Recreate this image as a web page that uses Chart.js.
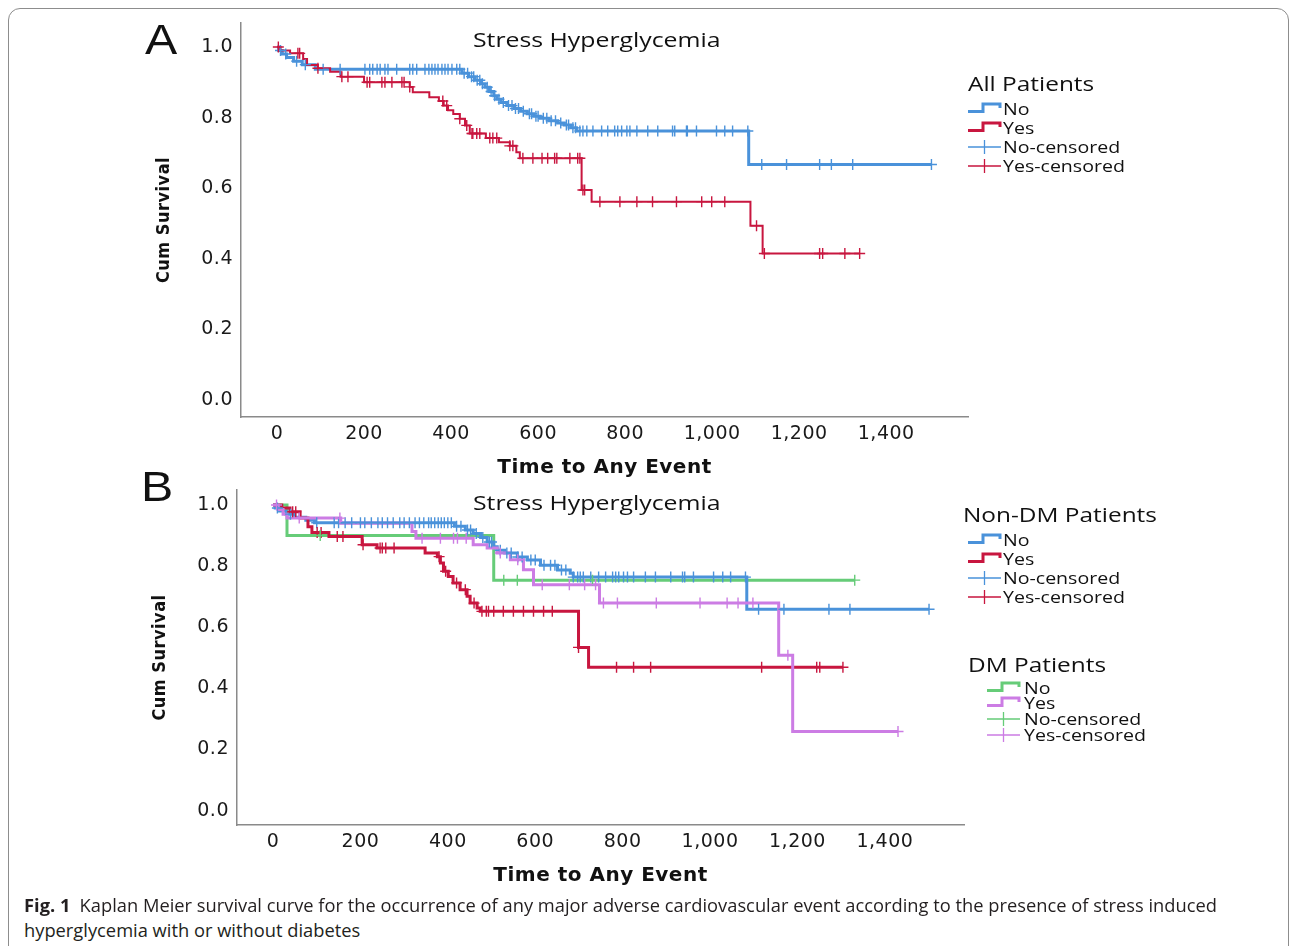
<!DOCTYPE html>
<html>
<head>
<meta charset="utf-8">
<script src="https://cdn.jsdelivr.net/npm/chart.js@4.4.1/dist/chart.umd.min.js"></script>
<style>
html,body{margin:0;padding:0;background:#fff;}
body{width:1296px;height:946px;overflow:hidden;position:relative;font-family:"Open Sans",sans-serif;color:#111;}
.frame{position:absolute;left:8px;top:8px;width:1281px;height:980px;border:1.5px solid #8d8d8d;border-radius:12px;box-sizing:border-box;}
canvas{position:absolute;left:0;}
.t{position:absolute;white-space:nowrap;transform-origin:0 50%;}
.lt{font-size:20px;line-height:20px;height:20px;transform:scaleX(1.22);}
.li{font-size:17px;line-height:18px;height:18px;transform:scaleX(1.15);}
.ttl{font-size:20px;line-height:20px;height:20px;transform:scaleX(1.24);color:#111;}
.pl{font-family:"Liberation Sans",Arial,sans-serif;font-size:42px;line-height:42px;transform:scaleX(1.15);color:#111;}
.cap{font-size:18px;line-height:22px;height:22px;color:#231f20;}
.icon{position:absolute;}
</style>
</head>
<body>
<div class="frame"></div>
<canvas id="chartA" width="1296" height="490" style="top:0px"></canvas>
<canvas id="chartB" width="1296" height="430" style="top:470px"></canvas>
<div id="overlay"></div>
<script>
// ---------------- DATA ----------------
const xTicks = [0, 200, 400, 600, 800, 1000, 1200, 1400];
const xTickLabels = ['0', '200', '400', '600', '800', '1,000', '1,200', '1,400'];
const yTicks = [0, 0.2, 0.4, 0.6, 0.8, 1.0];
const yTickLabels = ['0.0', '0.2', '0.4', '0.6', '0.8', '1.0'];

// Panel A: All patients, stress hyperglycemia No
const allNoTimes = [0, 4, 12, 22, 38, 58, 88, 425, 440, 455, 468, 478, 488, 498, 505, 515, 528, 545, 560, 575, 590, 605, 625, 645, 660, 675, 688, 1084];
const allNoSurv  = [1.0, 0.99, 0.98, 0.97, 0.96, 0.95, 0.937, 0.926, 0.916, 0.906, 0.896, 0.886, 0.874, 0.862, 0.852, 0.843, 0.834, 0.826, 0.818, 0.811, 0.804, 0.798, 0.791, 0.785, 0.779, 0.771, 0.762, 0.667];
const allNoCensored = [8, 20, 45, 65, 106, 145, 202, 213, 220, 230, 237, 248, 255, 275, 305, 312, 321, 340, 349, 356, 363, 370, 379, 386, 393, 402, 413, 420,
  430, 438, 447, 452, 460, 466, 472, 483, 492, 500, 510, 520, 532, 540, 548, 555, 566, 580, 585, 595, 600, 612, 620, 630, 640, 652, 665, 670, 680,
  686, 696, 703, 712, 726, 746, 760, 776, 783, 792, 804, 811, 827, 852, 875, 909, 914, 941, 943, 964, 1010, 1029, 1047, 1082, 1114, 1171, 1247, 1274, 1323, 1504];
// Panel A: All patients, stress hyperglycemia Yes
const allYesTimes = [0, 8, 30, 60, 69, 94, 122, 146, 200, 305, 312, 350, 372, 383, 393, 405, 420, 432, 443, 480, 510, 535, 550, 558, 700, 723, 1088, 1116];
const allYesSurv  = [1.0, 0.99, 0.982, 0.966, 0.949, 0.94, 0.93, 0.916, 0.9, 0.887, 0.872, 0.858, 0.847, 0.834, 0.821, 0.81, 0.797, 0.778, 0.755, 0.742, 0.73, 0.72, 0.702, 0.685, 0.595, 0.562, 0.494, 0.415];
const allYesCensored = [3, 48, 52, 94, 149, 163, 207, 213, 241, 248, 264, 287, 292, 305, 381, 390, 420, 436, 448, 450, 459, 466, 489, 496, 505, 535, 542, 565, 588, 609, 622, 638, 643, 673, 691, 696,
  703, 707, 742, 788, 827, 863, 918, 976, 999, 1029, 1102, 1120, 1247, 1254, 1305, 1339];

// Panel B: Non-DM patients
const nonDmNoTimes = [0, 5, 15, 30, 50, 75, 95, 415, 440, 458, 475, 490, 505, 513, 530, 559, 582, 612, 651, 680, 687, 1084];
const nonDmNoSurv  = [1.0, 0.99, 0.98, 0.97, 0.96, 0.95, 0.942, 0.93, 0.918, 0.907, 0.894, 0.879, 0.863, 0.852, 0.843, 0.83, 0.82, 0.803, 0.787, 0.777, 0.764, 0.659];
const nonDmNoCensored = [10, 40, 100, 140, 150, 165, 180, 200, 210, 225, 240, 250, 262, 275, 290, 300, 312, 325, 335, 345, 356, 362, 370, 378, 385, 392, 400, 408,
  420, 430, 445, 452, 465, 480, 495, 500, 520, 535, 545, 560, 570, 590, 600, 620, 635, 645, 660, 670,
  687, 697, 703, 710, 727, 745, 761, 777, 784, 791, 802, 811, 825, 852, 875, 910, 937, 942, 962, 1008, 1029, 1047, 1081, 1111, 1169, 1272, 1320, 1501];
const nonDmYesTimes = [0, 20, 39, 62, 80, 89, 128, 204, 238, 348, 376, 383, 390, 401, 412, 428, 444, 451, 467, 474, 699, 722];
const nonDmYesSurv  = [1.0, 0.99, 0.978, 0.957, 0.929, 0.91, 0.897, 0.87, 0.859, 0.843, 0.831, 0.81, 0.783, 0.766, 0.745, 0.723, 0.701, 0.679, 0.663, 0.652, 0.534, 0.469];
const nonDmYesCensored = [45, 52, 101, 110, 147, 160, 206, 245, 250, 258, 277, 380, 395, 420, 440, 460, 478, 488, 493, 505, 527, 550, 573, 596, 619, 639, 699, 786, 825, 864, 1118, 1244, 1251, 1304];
// Panel B: DM patients
const dmNoTimes = [0, 32, 505];
const dmNoSurv  = [1.0, 0.9, 0.754];
const dmNoCensored = [108, 528, 559, 731, 1331];
const dmYesTimes = [0, 12, 23, 32, 155, 318, 327, 458, 490, 513, 543, 573, 596, 747, 1157, 1189];
const dmYesSurv  = [1.0, 0.985, 0.97, 0.957, 0.94, 0.913, 0.891, 0.87, 0.859, 0.843, 0.821, 0.788, 0.739, 0.679, 0.508, 0.259];
const dmYesCensored = [8, 60, 153, 341, 383, 413, 422, 442, 520, 560, 616, 678, 713, 738, 756, 788, 877, 977, 1039, 1064, 1098, 1178, 1430];

const panelTitle = 'Stress Hyperglycemia';
const xTitle = 'Time to Any Event';
const yTitle = 'Cum Survival';
const legendA = {title: 'All Patients', labels: ['No', 'Yes', 'No-censored', 'Yes-censored']};
const legendB1 = {title: 'Non-DM Patients', labels: ['No', 'Yes', 'No-censored', 'Yes-censored']};
const legendB2 = {title: 'DM Patients', labels: ['No', 'Yes', 'No-censored', 'Yes-censored']};
const captionBold = 'Fig. 1';
const captionLine1 = 'Kaplan Meier survival curve for the occurrence of any major adverse cardiovascular event according to the presence of stress induced';
const captionLine2 = 'hyperglycemia with or without diabetes';

// ---------------- STYLE ----------------
const BLUE = '#4a92da', RED = '#c8163f', GREEN = '#66cc78', PURPLE = '#cc7ce4';

// ---------------- HELPERS ----------------
function stepPoints(times, surv, cens) {
  const pts = times.map((t, i) => ({x: t, y: surv[i]}));
  const end = Math.max(times[times.length - 1], ...cens);
  pts.push({x: end, y: surv[surv.length - 1]});
  return pts;
}
function survAt(times, surv, t) {
  let s = surv[0];
  for (let i = 0; i < times.length; i++) if (times[i] <= t) s = surv[i];
  return s;
}
function censPoints(times, surv, cens) {
  return cens.map(t => ({x: t, y: survAt(times, surv, t)}));
}
function curve(label, times, surv, cens, color, width) {
  return {type: 'line', label, data: stepPoints(times, surv, cens), stepped: 'before', borderColor: color,
    borderWidth: width, pointRadius: 0, fill: false, tension: 0};
}
function marks(label, times, surv, cens, color) {
  return {type: 'line', label, data: censPoints(times, surv, cens), showLine: false, pointStyle: 'cross',
    pointRadius: 5.5, pointBorderWidth: 1.4, borderColor: color, pointBorderColor: color, backgroundColor: color};
}

const spacingPlugin = {id: 'spacing', beforeDraw(chart) { chart.ctx.letterSpacing = '0.5px'; }};

function makeOptions(cfg) {
  return {
    responsive: false, animation: false, devicePixelRatio: 1,
    layout: {padding: cfg.padding},
    plugins: {legend: {display: false}, tooltip: {enabled: false}, title: {display: false}},
    scales: {
      x: {type: 'linear', min: cfg.xMin, max: cfg.xMax,
        afterBuildTicks: s => { s.ticks = xTicks.map(v => ({value: v})); },
        afterFit: s => { s.height = cfg.xH; },
        ticks: {autoSkip: false, maxRotation: 0, padding: cfg.xPad, color: '#1a1a1a',
          font: {family: 'DejaVu Sans', size: 19},
          callback: (v) => { const i = xTicks.indexOf(v); return i >= 0 ? xTickLabels[i] : ''; }},
        grid: {display: false, drawTicks: false},
        border: {display: true, color: '#8a8a8a', width: 1.5},
        title: {display: true, text: xTitle, color: '#111', padding: 0,
          font: {family: 'DejaVu Sans', weight: 'bold', size: 20}}
      },
      y: {type: 'linear', min: cfg.yMin, max: cfg.yMax,
        afterBuildTicks: s => { s.ticks = yTicks.map(v => ({value: v})); },
        afterFit: s => { s.width = 87; },
        ticks: {autoSkip: false, padding: 8, color: '#1a1a1a',
          font: {family: 'DejaVu Sans', size: 19},
          callback: (v) => { const i = yTicks.findIndex(t => Math.abs(t - v) < 1e-9); return i >= 0 ? yTickLabels[i] : ''; }},
        grid: {display: false, drawTicks: false},
        border: {display: true, color: '#8a8a8a', width: 1.5},
        title: {display: true, text: yTitle, color: '#111', padding: 0,
          font: {family: '"DejaVu Sans Condensed", sans-serif', weight: 'bold', size: 18}}
      }
    }
  };
}

new Chart(document.getElementById('chartA'), {
  data: {datasets: [
    marks('Yes-censored', allYesTimes, allYesSurv, allYesCensored, RED),
    marks('No-censored', allNoTimes, allNoSurv, allNoCensored, BLUE),
    curve('Yes', allYesTimes, allYesSurv, allYesCensored, RED, 2),
    curve('No', allNoTimes, allNoSurv, allNoCensored, BLUE, 3)
  ]},
  options: makeOptions({padding: {left: 154, right: 328, top: 23, bottom: 10},
    xMin: -82.8, xMax: 1588, yMin: -0.048, yMax: 1.068, xH: 63, xPad: 6}),
  plugins: [spacingPlugin]
});

new Chart(document.getElementById('chartB'), {
  data: {datasets: [
    marks('DM Yes-censored', dmYesTimes, dmYesSurv, dmYesCensored, PURPLE),
    marks('DM No-censored', dmNoTimes, dmNoSurv, dmNoCensored, GREEN),
    marks('Non-DM Yes-censored', nonDmYesTimes, nonDmYesSurv, nonDmYesCensored, RED),
    marks('Non-DM No-censored', nonDmNoTimes, nonDmNoSurv, nonDmNoCensored, BLUE),
    curve('DM Yes', dmYesTimes, dmYesSurv, dmYesCensored, PURPLE, 3),
    curve('Non-DM Yes', nonDmYesTimes, nonDmYesSurv, nonDmYesCensored, RED, 3),
    curve('Non-DM No', nonDmNoTimes, nonDmNoSurv, nonDmNoCensored, BLUE, 3),
    curve('DM No', dmNoTimes, dmNoSurv, dmNoCensored, GREEN, 3)
  ]},
  options: makeOptions({padding: {left: 150, right: 332, top: 20, bottom: 12},
    xMin: -82.4, xMax: 1581, yMin: -0.047, yMax: 1.049, xH: 63, xPad: 6}),
  plugins: [spacingPlugin]
});

// ---------------- TEXT OVERLAY ----------------
const ov = document.getElementById('overlay');
function addDiv(cls, text, left, top, extra) {
  const d = document.createElement('div');
  d.className = 't ' + cls;
  d.textContent = text;
  d.style.left = left + 'px';
  d.style.top = top + 'px';
  if (extra) Object.assign(d.style, extra);
  ov.appendChild(d);
  return d;
}
function icon(kind, color, left, cy) {
  const ns = 'http://www.w3.org/2000/svg';
  const svg = document.createElementNS(ns, 'svg');
  svg.setAttribute('width', '34'); svg.setAttribute('height', '16');
  svg.setAttribute('class', 'icon');
  svg.style.left = left + 'px'; svg.style.top = (cy - 8) + 'px';
  const p = document.createElementNS(ns, 'path');
  if (kind === 'step') {
    p.setAttribute('d', 'M0,10.5 H15 V3 H32 V7');
    p.setAttribute('stroke-width', '3');
  } else {
    p.setAttribute('d', 'M0,8 H33 M16.5,1 V15');
    p.setAttribute('stroke-width', '1.3');
  }
  p.setAttribute('stroke', color); p.setAttribute('fill', 'none');
  svg.appendChild(p);
  ov.appendChild(svg);
}
function legend(def, colors, titleLeft, titleCy, iconLeft, textLeft, rows) {
  addDiv('lt', def.title, titleLeft, titleCy - 10);
  def.labels.forEach((lab, i) => {
    icon(i < 2 ? 'step' : 'cross', colors[i], iconLeft, rows[i]);
    addDiv('li', lab, textLeft, rows[i] - 9);
  });
}
legend(legendA, [BLUE, RED, BLUE, RED], 968, 84, 968, 1003, [109, 128, 147, 166]);
legend(legendB1, [BLUE, RED, BLUE, RED], 963, 515, 968, 1003, [540, 559, 578, 597]);
legend(legendB2, [GREEN, PURPLE, GREEN, PURPLE], 968, 665, 987, 1024, [688, 703, 719, 735]);

addDiv('ttl', panelTitle, 473, 30);
addDiv('ttl', panelTitle, 473, 493);
addDiv('pl', 'A', 145, 19);
addDiv('pl', 'B', 141, 466);

const c1 = addDiv('cap', '', 24, 894);
const b = document.createElement('b'); b.textContent = captionBold; c1.appendChild(b);
c1.appendChild(document.createTextNode('\u2002' + captionLine1));
const c2 = addDiv('cap', captionLine2, 24, 919);
function fitCaption() {
  c1.style.transform = 'none'; c2.style.transform = 'none';
  const w = c1.getBoundingClientRect().width;
  const k = 1193 / w;
  c1.style.transform = 'scaleX(' + k + ')';
  c2.style.transform = 'scaleX(' + k + ')';
}
fitCaption();
if (document.fonts && document.fonts.ready) document.fonts.ready.then(fitCaption);
</script>
</body>
</html>
